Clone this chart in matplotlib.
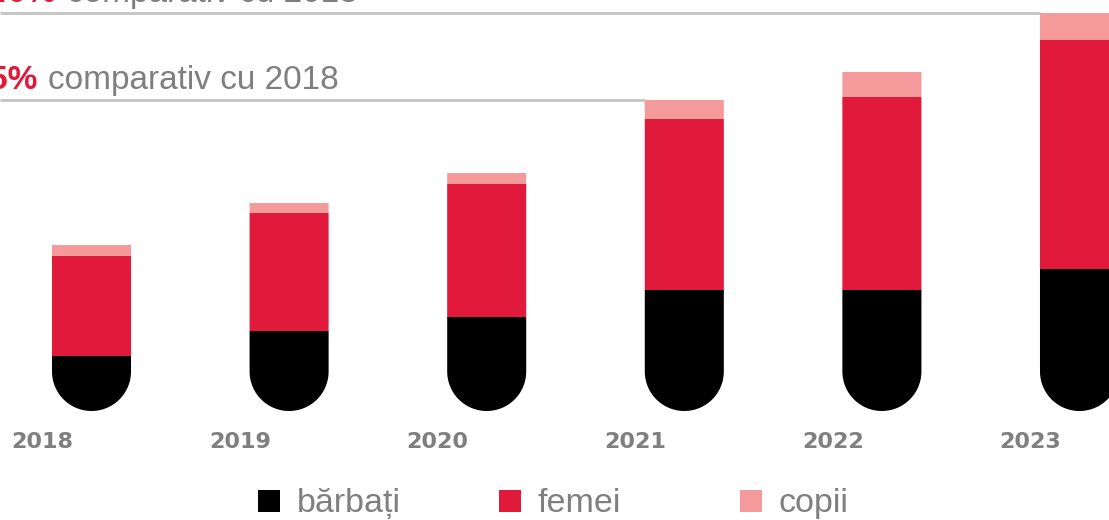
import matplotlib
matplotlib.use("Agg")
import matplotlib.pyplot as plt  # noqa: E402
from matplotlib.patches import PathPatch, Rectangle  # noqa: E402
from matplotlib.path import Path  # noqa: E402
import numpy as np  # noqa: E402

YEARS = ["2018", "2019", "2020", "2021", "2022", "2023"]
BARBATI = [55, 80, 94, 121, 121, 142]
FEMEI = [100, 118, 133, 171, 193, 229]
COPII = [11, 10, 11, 19, 25, 27]
SERIES = ["bărbați", "femei", "copii"]
COLORS = ["#000000", "#E1193A", "#F59A9A"]
# growth notes: (index of the bar the line runs to, percent label)
NOTE_BARS = [3, 5]
NOTE_PCT = ["+85%", "+140%"]
NOTE_TEXT = "comparativ cu 2018"

GREY = "#7f7f80"
LINE_GREY = "#c4c4c4"
W_PX, H_PX = 1109, 520
STEP_PX = 197.6      # distance between bar centres
FIRST_PX = 91.5      # centre of first bar
BASE_PX = 411        # bottom of the rounded bars
BAR_W = 0.4

fig = plt.figure(figsize=(W_PX / 100, H_PX / 100), dpi=100)
ax = fig.add_axes([0, 0, 1, 1])
ax.set_xlim(-FIRST_PX / STEP_PX, (W_PX - FIRST_PX) / STEP_PX)
ax.set_ylim(BASE_PX - H_PX, BASE_PX)
ax.axis("off")

x = np.arange(len(YEARS))
men = np.array(BARBATI, dtype=float)
women = np.array(FEMEI, dtype=float)
kids = np.array(COPII, dtype=float)
totals = men + women + kids

# radius of the round bottom, in y data units (so it looks circular)
p0 = ax.transData.transform((0, 0))
p1 = ax.transData.transform((BAR_W / 2, 0))
r_px = p1[0] - p0[0]
r = r_px * (ax.get_ylim()[1] - ax.get_ylim()[0]) / ax.bbox.height


def rounded_bar(xc, top):
    """Bar from 0 to `top` whose bottom is a half circle."""
    t = np.linspace(np.pi, 2 * np.pi, 60)
    arc = np.column_stack([xc + BAR_W / 2 * np.cos(t), r + r * np.sin(t)])
    verts = np.vstack([[xc - BAR_W / 2, top], arc, [xc + BAR_W / 2, top],
                       [xc - BAR_W / 2, top]])
    codes = [Path.MOVETO] + [Path.LINETO] * (len(verts) - 2) + [Path.CLOSEPOLY]
    return PathPatch(Path(verts, codes), facecolor=COLORS[0], edgecolor="none",
                     linewidth=0, zorder=3)


for xi, m in zip(x, men):
    ax.add_patch(rounded_bar(xi, m))
upper = [
    ax.bar(x, women, BAR_W, bottom=men, color=COLORS[1], linewidth=0, zorder=3),
    ax.bar(x, kids, BAR_W, bottom=men + women, color=COLORS[2], linewidth=0, zorder=3),
]
for container in upper:
    for patch in container:
        patch.set_snap(False)

# reference lines with growth notes
xmin = ax.get_xlim()[0]
for idx, pct in zip(NOTE_BARS, NOTE_PCT):
    ax.hlines(totals[idx], xmin, idx - BAR_W / 2, color=LINE_GREY, lw=2, zorder=2)
    red = ax.annotate(pct, xy=(xmin, totals[idx]), xytext=(-48, 11),
                      textcoords="offset pixels", ha="left", va="baseline",
                      fontsize=24, fontweight="bold", color=COLORS[1],
                      family="Liberation Sans")
    ax.annotate(NOTE_TEXT, xy=(1, 0), xycoords=red, xytext=(10, 0),
                textcoords="offset pixels", ha="left", va="bottom",
                fontsize=24, color=GREY, family="Liberation Sans")

# year labels, shifted left of the bars
for xi, year in zip(x, YEARS):
    ax.annotate(year, xy=(xi, 0), xytext=(-49, -37), textcoords="offset pixels",
                ha="center", va="baseline", fontsize=16, fontweight="bold",
                color=GREY, family="DejaVu Sans")

# legend
for i, (name, col) in enumerate(zip(SERIES, COLORS)):
    left = 258 + 241 * i
    fig.add_artist(Rectangle((left / W_PX, 1 - 512 / H_PX), 22 / W_PX, 22 / H_PX,
                             transform=fig.transFigure, color=col, linewidth=0))
    fig.text((left + 39) / W_PX, 1 - 512 / H_PX, name, ha="left", va="baseline",
             fontsize=24.5, color=GREY, family="Liberation Sans")

fig.savefig("out.png", dpi=100)
